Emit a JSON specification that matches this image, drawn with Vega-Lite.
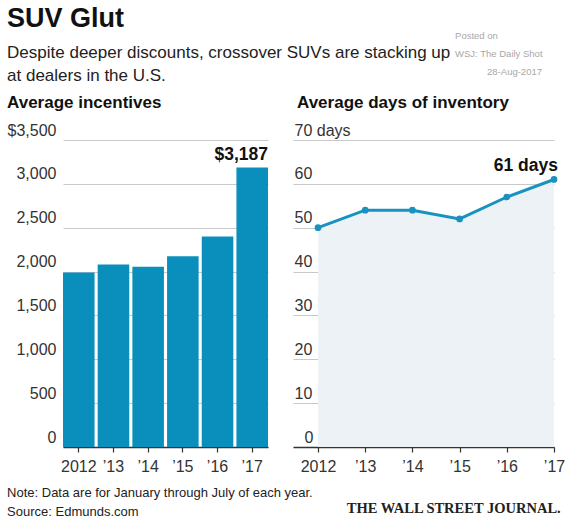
{
  "$schema": "https://vega.github.io/schema/vega-lite/v6.json",
  "padding": {"left": 7, "top": 5, "right": 6, "bottom": 4},
  "background": "white",
  "config": {
    "font": "Liberation Sans, sans-serif",
    "view": {"stroke": null},
    "axis": {"labelColor": "#333", "labelFont": "Liberation Sans, sans-serif"}
  },
  "title": {
    "text": "28-Aug-2017",
    "orient": "top", "anchor": "start", "align": "left", "frame": "bounds",
    "font": "Liberation Sans, sans-serif", "fontSize": 9.5, "fontWeight": "normal",
    "color": "#a8a8a8", "offset": -71, "dx": 480
  },
  "vconcat": [
    {
      "title": {
        "text": ["Posted on", "WSJ: The Daily Shot"],
        "orient": "top", "anchor": "start", "align": "left", "frame": "bounds",
        "font": "Liberation Sans, sans-serif", "fontSize": 9.5, "fontWeight": "normal",
        "color": "#a8a8a8", "lineHeight": 18, "offset": -53, "dx": 448
      },
      "vconcat": [
        {
          "title": {
            "text": "THE WALL STREET JOURNAL.", "orient": "bottom", "anchor": "end", "frame": "bounds",
            "font": "Liberation Serif, serif", "fontSize": 14.5, "fontWeight": "bold", "color": "#222", "offset": -17, "dx": -4
          },
          "vconcat": [
            {
              "title": {
                "text": ["Note: Data are for January through July of each year.", "Source: Edmunds.com"],
                "orient": "bottom", "anchor": "start", "frame": "bounds",
                "fontSize": 13, "fontWeight": "normal", "color": "#222", "lineHeight": 19, "offset": 13
              },
              "vconcat": [
                {
                  "title": {
                    "text": "SUV Glut", "subtitle": ["Despite deeper discounts, crossover SUVs are stacking up", "at dealers in the U.S."],
                    "anchor": "start", "frame": "bounds", "fontSize": 27, "fontWeight": "bold", "color": "#111",
                    "subtitleFontSize": 17, "subtitleColor": "#222", "subtitleLineHeight": 23, "subtitlePadding": 12, "offset": 9
                  },
                  "spacing": 25,
                  "hconcat": [
                    {
                      "width": 260, "height": 307,
                      "title": {"text": "Average incentives", "anchor": "start", "frame": "bounds", "fontSize": 17, "fontWeight": "bold", "color": "#111", "offset": 10},
                      "data": {"values": [
                        {"year": "2012", "incentive": 1990},
                        {"year": "2013", "incentive": 2080},
                        {"year": "2014", "incentive": 2055},
                        {"year": "2015", "incentive": 2175},
                        {"year": "2016", "incentive": 2400},
                        {"year": "2017", "incentive": 3187}
                      ]},
                      "encoding": {
                        "x": {"field": "year", "type": "ordinal", "sort": null,
                          "scale": {"range": [55, 260], "paddingInner": 0.09, "paddingOuter": 0},
                          "axis": {"title": null, "labelAngle": 0, "labelFontSize": 16, "labelPadding": 6,
                            "labelExpr": "datum.value == '2012' ? '2012' : '\u2019' + substring(datum.value, 2)",
                            "domainColor": "#333", "domainWidth": 1.5, "tickColor": "#333", "tickSize": 5, "tickWidth": 1.2}},
                        "y": {"field": "incentive", "type": "quantitative",
                          "scale": {"domain": [0, 3500], "nice": false},
                          "axis": {"title": null, "values": [0, 500, 1000, 1500, 2000, 2500, 3000, 3500],
                            "grid": true, "gridColor": "#c9c9c9", "domain": false, "ticks": false,
                            "labelAlign": "right", "labelPadding": -48, "labelBaseline": "alphabetic", "labelOffset": -5, "labelFontSize": 16,
                            "labelExpr": "datum.value == 3500 ? '$3,500' : datum.label"}}
                      },
                      "layer": [
                        {"mark": {"type": "bar", "color": "#0a8fbd"}},
                        {"transform": [{"filter": "datum.year == '2017'"}],
                         "mark": {"type": "text", "align": "right", "baseline": "bottom", "dy": -3, "fontSize": 17.5, "fontWeight": "bold", "color": "#111"},
                         "encoding": {"x": {"field": "year", "type": "ordinal", "bandPosition": 1}, "text": {"field": "incentive", "type": "quantitative", "format": "$,"}}}
                      ]
                    },
                    {
                      "width": 261, "height": 307,
                      "title": {"text": "Average days of inventory", "anchor": "start", "frame": "bounds", "fontSize": 17, "fontWeight": "bold", "color": "#111", "offset": 10, "dx": 4},
                      "data": {"values": [
                        {"year": 2012, "days": 50},
                        {"year": 2013, "days": 54},
                        {"year": 2014, "days": 54},
                        {"year": 2015, "days": 52},
                        {"year": 2016, "days": 57},
                        {"year": 2017, "days": 61}
                      ]},
                      "encoding": {
                        "x": {"field": "year", "type": "quantitative",
                          "scale": {"domain": [2011.47, 2017], "nice": false, "zero": false},
                          "axis": {"title": null, "values": [2012, 2013, 2014, 2015, 2016, 2017], "grid": false, "labelFlush": false,
                            "labelFontSize": 16, "labelPadding": 6,
                            "labelExpr": "datum.value == 2012 ? '2012' : '\u2019' + substring(toString(datum.value), 2)",
                            "domainColor": "#333", "domainWidth": 1.5, "tickColor": "#333", "tickSize": 5, "tickWidth": 1.2}},
                        "y": {"field": "days", "type": "quantitative",
                          "scale": {"domain": [0, 70], "nice": false},
                          "axis": {"title": null, "values": [0, 10, 20, 30, 40, 50, 60, 70],
                            "grid": true, "gridColor": "#c9c9c9", "domain": false, "ticks": false,
                            "labelAlign": "left", "labelBaseline": "alphabetic", "labelOffset": -5, "labelFontSize": 16,
                            "labelPadding": {"condition": {"test": "datum.value == 0", "value": -11}, "value": -1},
                            "labelExpr": "datum.value == 70 ? '70 days' : datum.label"}}
                      },
                      "layer": [
                        {"mark": {"type": "area", "color": "#ecf2f6"}},
                        {"mark": {"type": "line", "color": "#1a92bf", "strokeWidth": 3}},
                        {"mark": {"type": "point", "filled": true, "opacity": 1, "color": "#1a92bf", "size": 45}},
                        {"transform": [{"filter": "datum.year == 2017"}],
                         "mark": {"type": "text", "align": "right", "baseline": "bottom", "dx": 4, "dy": -4, "fontSize": 17.5, "fontWeight": "bold", "color": "#111"},
                         "encoding": {"text": {"value": "61 days"}}}
                      ]
                    }
                  ]
                }
              ]
            }
          ]
        }
      ]
    }
  ]
}
